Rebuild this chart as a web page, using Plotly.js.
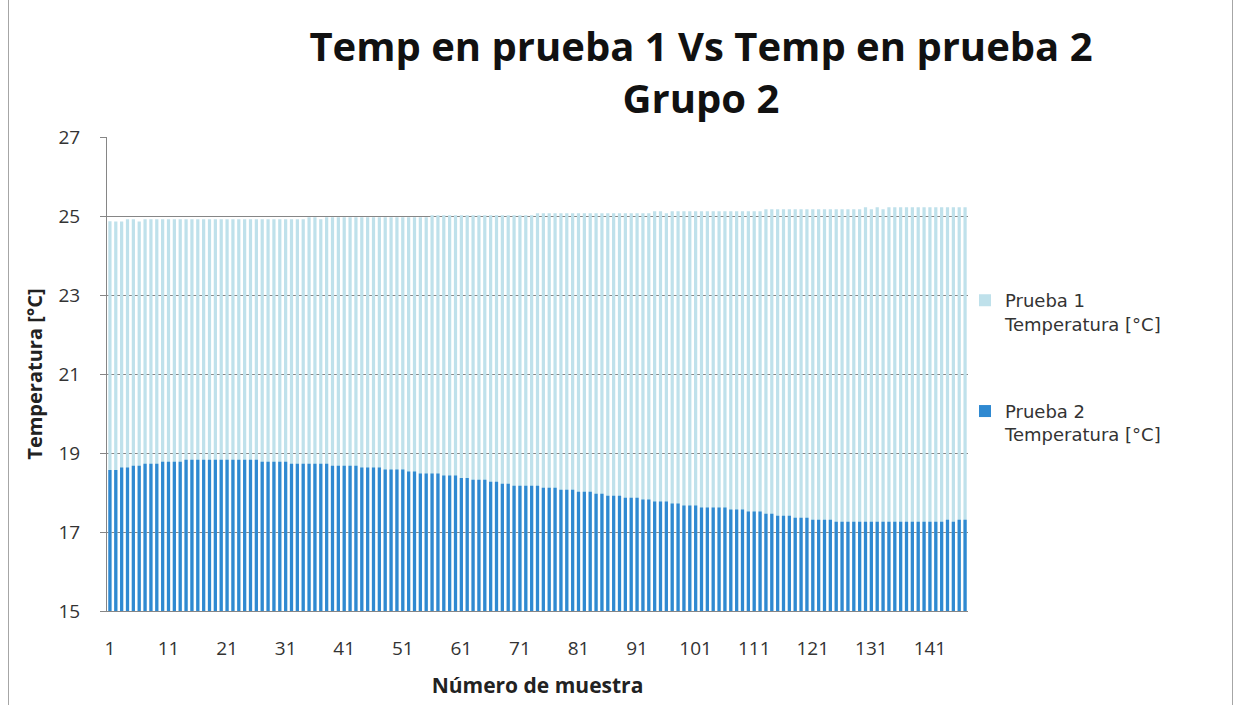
<!DOCTYPE html>
<html>
<head>
<meta charset="utf-8">
<script src="https://cdn.plot.ly/plotly-3.0.1.min.js"></script>
<style>
  body { margin: 0; background: #ffffff; }
  #wrap { position: relative; width: 1235px; height: 705px; overflow: hidden; }
  #chart { position: absolute; left: 0; top: 0; width: 1235px; height: 705px; }
  #frame { position: absolute; left: 8px; top: -4px; width: 1223px; height: 720px;
           border-left: 1px solid #a6a6a6; border-right: 1px solid #a6a6a6; pointer-events: none; }
</style>
</head>
<body>
<div id="wrap">
  <div id="chart"></div>
  <div id="frame"></div>
</div>
<script>
// Sample numbers (categories) 1..147
const sampleCount = 147;
const samples = [];
for (let i = 1; i <= sampleCount; i++) samples.push(i);

const tickValues = [1, 11, 21, 31, 41, 51, 61, 71, 81, 91, 101, 111, 121, 131, 141];
const tickLabels = ['1', '11', '21', '31', '41', '51', '61', '71', '81', '91', '101', '111', '121', '131', '141'];

// Prueba 1 Temperatura [°C]
const prueba1 = [
  24.87, 24.86, 24.86, 24.92, 24.92, 24.86, 24.92, 24.92, 24.92, 24.92,
  24.92, 24.92, 24.92, 24.92, 24.92, 24.92, 24.92, 24.92, 24.92, 24.92,
  24.92, 24.92, 24.92, 24.92, 24.92, 24.92, 24.92, 24.92, 24.92, 24.92,
  24.92, 24.92, 24.92, 24.92, 24.97, 24.97, 24.92, 24.97, 24.97, 24.97,
  24.97, 24.97, 24.97, 24.97, 24.97, 24.97, 24.97, 24.97, 24.97, 24.97,
  24.97, 24.97, 24.97, 24.97, 24.97, 25.02, 25.02, 25.02, 25.02, 25.02,
  25.02, 25.02, 25.02, 25.02, 25.02, 25.02, 25.02, 25.02, 25.02, 25.02,
  25.02, 25.02, 25.02, 25.07, 25.07, 25.07, 25.07, 25.07, 25.07, 25.07,
  25.07, 25.07, 25.07, 25.07, 25.07, 25.07, 25.07, 25.07, 25.07, 25.07,
  25.07, 25.07, 25.07, 25.12, 25.12, 25.07, 25.12, 25.12, 25.12, 25.12,
  25.12, 25.12, 25.12, 25.12, 25.12, 25.12, 25.12, 25.12, 25.12, 25.12,
  25.12, 25.12, 25.17, 25.17, 25.17, 25.17, 25.17, 25.17, 25.17, 25.17,
  25.17, 25.17, 25.17, 25.17, 25.17, 25.17, 25.17, 25.17, 25.17, 25.22,
  25.17, 25.22, 25.17, 25.22, 25.22, 25.22, 25.22, 25.22, 25.22, 25.22,
  25.22, 25.22, 25.22, 25.22, 25.22, 25.22, 25.22
];

// Prueba 2 Temperatura [°C]
const prueba2 = [
  18.57, 18.57, 18.63, 18.63, 18.68, 18.68, 18.73, 18.73, 18.73, 18.78,
  18.78, 18.78, 18.78, 18.83, 18.83, 18.83, 18.83, 18.83, 18.83, 18.83,
  18.83, 18.83, 18.83, 18.83, 18.83, 18.83, 18.78, 18.78, 18.78, 18.78,
  18.78, 18.73, 18.73, 18.73, 18.73, 18.73, 18.73, 18.73, 18.68, 18.68,
  18.68, 18.68, 18.68, 18.63, 18.63, 18.63, 18.63, 18.58, 18.58, 18.58,
  18.58, 18.53, 18.53, 18.48, 18.48, 18.48, 18.48, 18.43, 18.43, 18.43,
  18.37, 18.37, 18.32, 18.32, 18.32, 18.27, 18.27, 18.22, 18.22, 18.17,
  18.17, 18.17, 18.17, 18.17, 18.12, 18.12, 18.12, 18.07, 18.07, 18.07,
  18.02, 18.02, 18.02, 17.97, 17.97, 17.92, 17.92, 17.92, 17.87, 17.87,
  17.87, 17.82, 17.82, 17.77, 17.77, 17.77, 17.72, 17.72, 17.67, 17.67,
  17.67, 17.62, 17.62, 17.62, 17.62, 17.62, 17.57, 17.57, 17.57, 17.52,
  17.52, 17.52, 17.46, 17.46, 17.41, 17.41, 17.41, 17.36, 17.36, 17.36,
  17.31, 17.31, 17.31, 17.31, 17.26, 17.26, 17.26, 17.26, 17.26, 17.26,
  17.26, 17.26, 17.26, 17.26, 17.26, 17.26, 17.26, 17.26, 17.26, 17.26,
  17.26, 17.26, 17.26, 17.31, 17.26, 17.31, 17.31
];

const seriesNames = ['Prueba 1<br>Temperatura [°C]', 'Prueba 2<br>Temperatura [°C]'];
const seriesColors = ['#bfe1eb', '#2f89d1'];

const FONT = 'Open Sans, sans-serif';

const traces = [
  {
    type: 'bar', x: samples, y: prueba1, name: seriesNames[0],
    marker: { color: seriesColors[0], line: { width: 0 } },
    legendgroup: 'g1', hoverinfo: 'x+y'
  },
  {
    type: 'bar', x: samples, y: prueba2, name: seriesNames[1],
    marker: { color: seriesColors[1], line: { width: 0 } },
    legendgroup: 'g2', hoverinfo: 'x+y'
  }
];

const layout = {
  width: 1235, height: 705,
  paper_bgcolor: '#ffffff', plot_bgcolor: '#ffffff',
  margin: { l: 107, r: 267, t: 137, b: 94 },
  barmode: 'overlay',
  bargap: 0.45,
  font: { family: FONT, color: '#333333' },
  title: {
    text: '<b>Temp en prueba 1 Vs Temp en prueba 2<br>Grupo 2</b>',
    font: { family: FONT, size: 40, color: '#111111' },
    x: 0.5676, xanchor: 'center', xref: 'container',
    y: 0.914, yanchor: 'top', yref: 'container'
  },
  xaxis: {
    range: [0.5, sampleCount + 0.5],
    tickmode: 'array', tickvals: tickValues, ticktext: tickLabels,
    tickangle: 0,
    showgrid: false, zeroline: false,
    showline: true, linecolor: '#868686', linewidth: 1,
    ticks: '', ticklabelstandoff: 20,
    tickfont: { family: FONT, size: 19, color: '#333333' },
    title: { text: '<b>Número de muestra</b>', font: { family: FONT, size: 21, color: '#222222' }, standoff: 18 },
    automargin: false
  },
  yaxis: {
    range: [15, 27], dtick: 2, tick0: 15,
    showgrid: true, gridcolor: '#868686', gridwidth: 1,
    zeroline: false,
    showline: true, linecolor: '#868686', linewidth: 1,
    ticks: 'outside', ticklen: 6, tickcolor: '#868686',
    ticklabelstandoff: 16,
    tickfont: { family: FONT, size: 19, color: '#333333' },
    title: { text: '<b>Temperatura [°C]</b>', font: { family: FONT, size: 20, color: '#222222' }, standoff: 10 },
    automargin: false
  },
  legend: {
    x: 0.9965, xanchor: 'left', y: 0.694, yanchor: 'top',
    valign: 'top', tracegroupgap: 61,
    traceorder: 'grouped',
    font: { family: 'DejaVu Sans, sans-serif', size: 18, color: '#333333' },
    bgcolor: 'rgba(0,0,0,0)'
  },
  showlegend: true
};

Plotly.newPlot('chart', traces, layout, { displayModeBar: false, staticPlot: true });
</script>
</body>
</html>
